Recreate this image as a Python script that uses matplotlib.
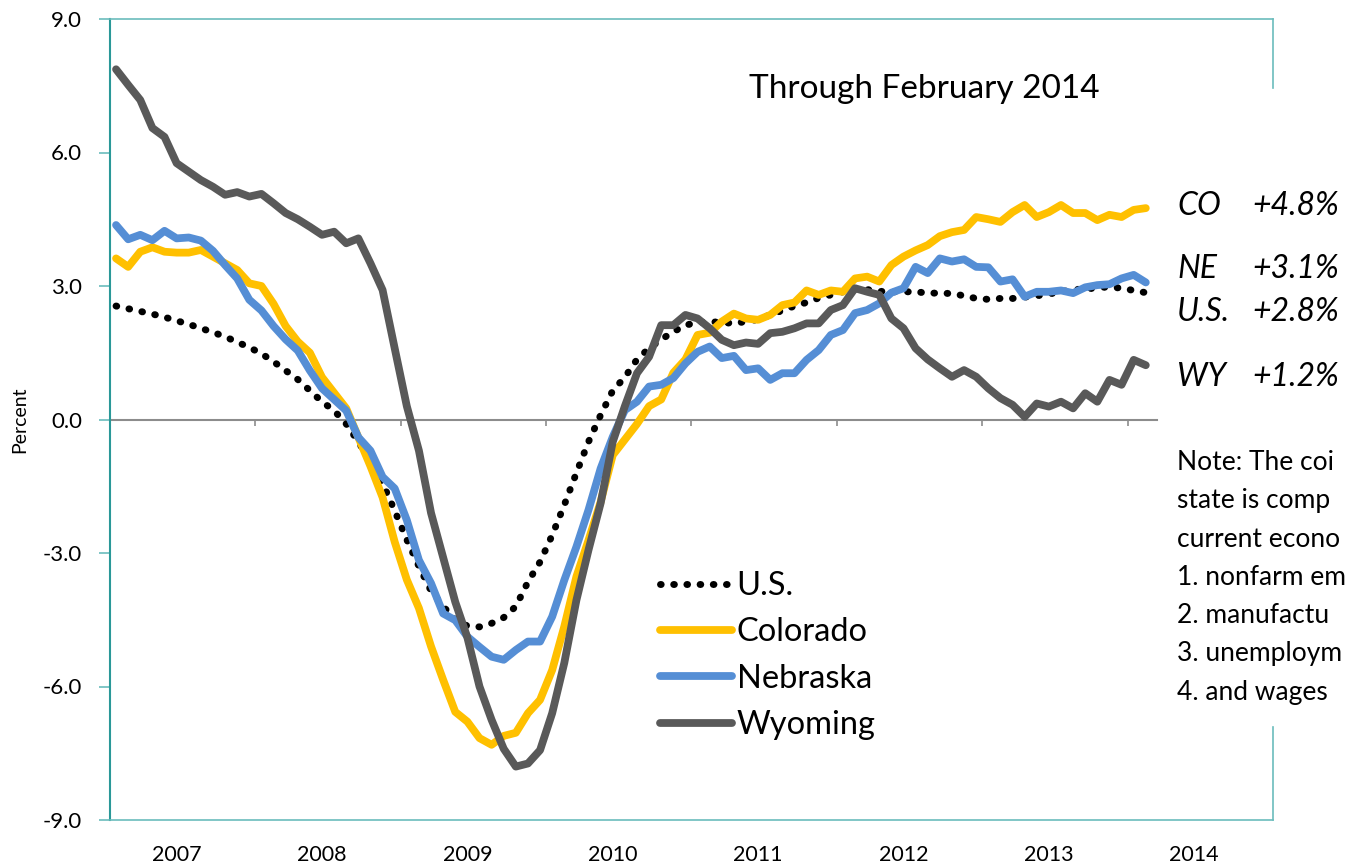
import numpy as np
import matplotlib
matplotlib.use('Agg')
import matplotlib.pyplot as plt
import matplotlib.transforms as mtransforms

plt.rcParams['font.family'] = ['Lato', 'DejaVu Sans']

# year-over-year percent change, monthly Jan 2007 .. Feb 2014
years = ['2007', '2008', '2009', '2010', '2011', '2012', '2013', '2014']
series_names = ['U.S.', 'Colorado', 'Nebraska', 'Wyoming']

us = [2.55, 2.49, 2.43, 2.37, 2.30, 2.22, 2.14, 2.05, 1.96, 1.86,
      1.74, 1.62, 1.48, 1.30, 1.10, 0.90, 0.65, 0.40, 0.20, -0.10,
      -0.50, -0.95, -1.43, -2.05, -2.70, -3.30, -3.85, -4.20, -4.50, -4.64,
      -4.66, -4.58, -4.45, -4.20, -3.65, -3.20, -2.60, -1.92, -1.20, -0.50,
      0.10, 0.65, 0.95, 1.35, 1.60, 1.80, 1.97, 2.12, 2.18, 2.20,
      2.18, 2.16, 2.20, 2.25, 2.35, 2.45, 2.55, 2.63, 2.73, 2.80,
      2.87, 2.93, 2.92, 2.88, 2.87, 2.87, 2.87, 2.84, 2.84, 2.83,
      2.78, 2.72, 2.70, 2.72, 2.72, 2.75, 2.78, 2.82, 2.87, 2.92,
      2.93, 2.96, 2.98, 2.95, 2.90, 2.85]

colorado = [3.62, 3.43, 3.77, 3.87, 3.77, 3.75, 3.75, 3.81, 3.66, 3.51,
            3.36, 3.06, 3.00, 2.60, 2.10, 1.75, 1.50, 0.95, 0.60, 0.25,
            -0.40, -1.05, -1.75, -2.75, -3.60, -4.24, -5.10, -5.85, -6.57, -6.79,
            -7.16, -7.31, -7.11, -7.04, -6.60, -6.30, -5.63, -4.65, -3.53, -2.71,
            -1.85, -0.80, -0.45, -0.10, 0.30, 0.45, 1.05, 1.35, 1.90, 1.95,
            2.20, 2.38, 2.27, 2.24, 2.35, 2.57, 2.63, 2.90, 2.80, 2.90,
            2.87, 3.17, 3.21, 3.10, 3.47, 3.66, 3.80, 3.92, 4.12, 4.21,
            4.26, 4.55, 4.50, 4.44, 4.66, 4.82, 4.55, 4.66, 4.82, 4.64,
            4.64, 4.48, 4.60, 4.55, 4.71, 4.75]

nebraska = [4.37, 4.05, 4.15, 4.03, 4.24, 4.07, 4.09, 4.02, 3.79, 3.47,
            3.17, 2.69, 2.45, 2.10, 1.80, 1.55, 1.10, 0.70, 0.45, 0.20,
            -0.40, -0.70, -1.29, -1.55, -2.26, -3.16, -3.68, -4.36, -4.51, -4.88,
            -5.11, -5.33, -5.40, -5.18, -4.99, -4.99, -4.43, -3.61, -2.86, -2.03,
            -1.10, -0.39, 0.21, 0.40, 0.74, 0.78, 0.93, 1.26, 1.52, 1.64,
            1.38, 1.43, 1.11, 1.15, 0.89, 1.04, 1.04, 1.34, 1.56, 1.90,
            2.01, 2.39, 2.46, 2.61, 2.85, 2.95, 3.43, 3.29, 3.62, 3.55,
            3.60, 3.43, 3.42, 3.10, 3.15, 2.76, 2.87, 2.87, 2.90, 2.84,
            2.97, 3.02, 3.04, 3.17, 3.25, 3.08]

wyoming = [7.87, 7.52, 7.18, 6.55, 6.35, 5.76, 5.57, 5.38, 5.23, 5.05,
           5.11, 5.01, 5.07, 4.86, 4.64, 4.50, 4.33, 4.15, 4.22, 3.96,
           4.07, 3.51, 2.91, 1.60, 0.30, -0.70, -2.10, -3.10, -4.10, -4.90,
           -6.00, -6.75, -7.40, -7.80, -7.73, -7.43, -6.60, -5.47, -4.06, -2.93,
           -1.88, -0.50, 0.30, 1.04, 1.41, 2.12, 2.12, 2.35, 2.27, 2.05,
           1.79, 1.67, 1.73, 1.70, 1.94, 1.97, 2.05, 2.16, 2.16, 2.46,
           2.57, 2.95, 2.87, 2.80, 2.27, 2.05, 1.60, 1.35, 1.15, 0.96,
           1.11, 0.96, 0.70, 0.48, 0.33, 0.06, 0.36, 0.29, 0.40, 0.25,
           0.59, 0.40, 0.89, 0.78, 1.34, 1.22]

end_labels = [('CO', '+4.8%'), ('NE', '+3.1%'), ('U.S.', '+2.8%'), ('WY', '+1.2%')]
# the note runs off the right edge of the original; only the visible part is kept
note_lines = ['Note: The coi',
              'state is comp',
              'current econo',
              '1. nonfarm em',
              '2. manufactu',
              '3. unemploym',
              '4. and wages']

months = np.arange(len(us))

W, H = 1348, 867
fig = plt.figure(figsize=(W / 100, H / 100), dpi=100)

def fx(px):
    return px / W

def fy(py):
    return 1 - py / H

ax = fig.add_axes([fx(110), fy(820), fx(1273) - fx(110), fy(19) - fy(820)])

teal_dark = '#2a9898'
teal_light = '#6bbcbc'
grey_axis = '#8c8c8c'

ax.plot(months, us, color='black', lw=5, linestyle=(0, (0.1, 1.8)),
        dash_capstyle='round', label=series_names[0])
ax.plot(months, colorado, color='#FFC000', lw=5.6, solid_capstyle='round',
        solid_joinstyle='round', label=series_names[1])
ax.plot(months, nebraska, color='#558ED5', lw=5.6, solid_capstyle='round',
        solid_joinstyle='round', label=series_names[2])
ax.plot(months, wyoming, color='#595959', lw=5.6, solid_capstyle='round',
        solid_joinstyle='round', label=series_names[3])

ax.set_xlim(-0.5, 95.5)
ax.set_ylim(-9, 9)
yt = np.arange(-9, 10, 3)
ax.set_yticks(yt)
ax.set_yticklabels(['{:.1f}'.format(v) for v in yt])
ax.set_xticks([])
ax.tick_params(axis='y', length=8, width=1.2, color=teal_light, pad=12, labelsize=16)

# box: right side is broken where the text panel sits
ax.spines['left'].set_color(teal_dark)
ax.spines['left'].set_linewidth(1.5)
for s in ['top', 'bottom']:
    ax.spines[s].set_color(teal_light)
    ax.spines[s].set_linewidth(1.2)
ax.spines['right'].set_visible(False)
gap_top = (820 - 88) / 801
gap_bot = (820 - 727) / 801
ax.plot([1, 1], [gap_top, 1], transform=ax.transAxes, color=teal_light, lw=1.2, clip_on=False)
ax.plot([1, 1], [0, gap_bot], transform=ax.transAxes, color=teal_light, lw=1.2, clip_on=False)

# zero line with year ticks
ax.axhline(0, xmin=0, xmax=(1157 - 110) / 1163, color=grey_axis, lw=1.5, zorder=1)
ax.vlines(np.arange(11.5, 86, 12), -0.14, 0, color=grey_axis, lw=1.2, zorder=1)

trans = mtransforms.blended_transform_factory(ax.transData, ax.transAxes)
for k, yr in enumerate(years):
    ax.text(12 * k + 5, -0.044, yr, transform=trans, ha='center', va='center', fontsize=15.5)

fig.text(fx(20), fy(420), 'Percent', rotation=90, ha='center', va='center', fontsize=14)
fig.text(fx(924), fy(89), 'Through February 2014', ha='center', va='center', fontsize=24)

leg = ax.legend(loc='upper left', bbox_to_anchor=(fx(660), fy(571)),
                bbox_transform=fig.transFigure, frameon=False, fontsize=23.5,
                handlelength=2.2, handletextpad=0.15, labelspacing=0.5,
                borderpad=0, borderaxespad=0)

label_y = [206, 269, 312, 377]
for (abbr, pct), py in zip(end_labels, label_y):
    fig.text(fx(1177), fy(py), abbr, style='italic', ha='left', va='center', fontsize=23)
    fig.text(fx(1252), fy(py), pct, style='italic', ha='left', va='center', fontsize=23)

for j, line in enumerate(note_lines):
    fig.text(fx(1177), fy(470 + 38.3 * j), line, ha='left', va='baseline', fontsize=19)

fig.savefig('out.png', dpi=100)
